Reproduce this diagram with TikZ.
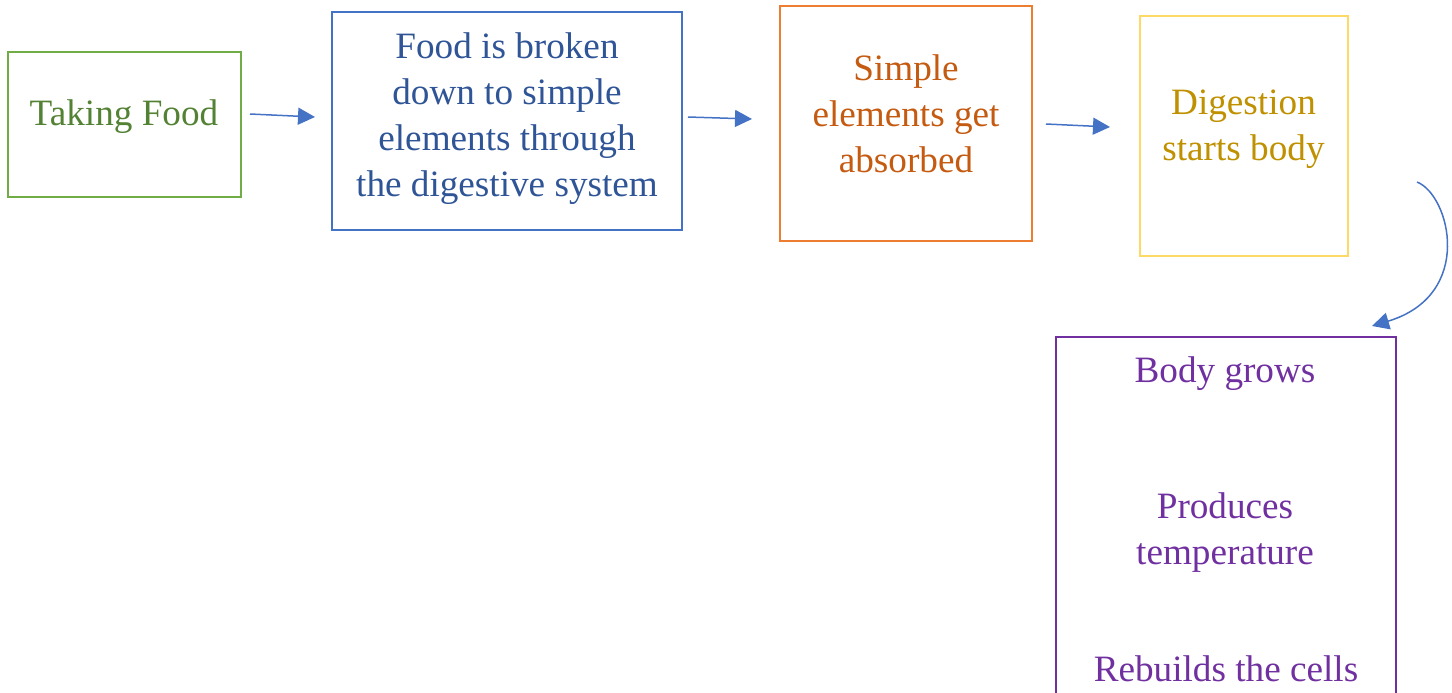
\documentclass[tikz,border=0pt]{standalone}
\usepackage{fontspec}
\setmainfont{Liberation Serif}
\usetikzlibrary{arrows.meta}
\definecolor{gborder}{HTML}{70AD47}\definecolor{gtext}{HTML}{548235}
\definecolor{bborder}{HTML}{4472C4}\definecolor{btext}{HTML}{2F5597}
\definecolor{oborder}{HTML}{ED7D31}\definecolor{otext}{HTML}{C55A11}
\definecolor{yborder}{HTML}{FFD966}\definecolor{ytext}{HTML}{BF9000}
\definecolor{pborder}{HTML}{7030A0}\definecolor{ptext}{HTML}{7030A0}
\definecolor{arrowc}{HTML}{4472C4}
\tikzset{
  box/.style={draw=#1, line width=1.25pt, inner sep=0pt, outer sep=0pt, fill=none},
  lbl/.style={text=#1, font=\fontsize{18.6pt}{23pt}\selectfont, align=center, inner sep=0pt},
  flow/.style={draw=arrowc, line width=0.75pt, -{Triangle[length=8.5pt,width=8.5pt]}}
}
\begin{document}
\begin{tikzpicture}[x=0.5pt,y=-0.5pt]
\useasboundingbox (0,0) rectangle (1452,692);
% boxes
\node[box=gborder, minimum width=116.5pt, minimum height=72.5pt] (green) at (124.5,124.5) {};
\node[box=bborder, minimum width=175pt, minimum height=109pt] (blue) at (507,121) {};
\node[box=oborder, minimum width=126pt, minimum height=117.5pt] (orange) at (906,123.5) {};
\node[box=yborder, minimum width=104pt, minimum height=120pt] (yellow) at (1244,136) {};
\node[box=pborder, minimum width=170pt, minimum height=191.5pt] (purple) at (1226,528.5) {};
% texts
\node[lbl=gtext] (tgreen) at (124,117) {Taking Food};
\node[lbl=btext] (tblue) at (507,119) {Food is broken\\down to simple\\elements through\\the digestive system};
\node[lbl=otext] (torange) at (906,114) {Simple\\elements get\\absorbed};
\node[lbl=ytext] (tyellow) at (1243.5,129) {Digestion\\starts body};
\node[lbl=ptext] (tp1) at (1225,374) {Body grows};
\node[lbl=ptext] (tp2) at (1225,533) {Produces\\temperature};
\node[lbl=ptext] (tp3) at (1226,669) {Rebuilds the cells};
% connector endpoints
\coordinate (a1s) at (250,114); \coordinate (a1e) at (315,117);
\coordinate (a2s) at (688,117); \coordinate (a2e) at (752,119);
\coordinate (a3s) at (1046,124); \coordinate (a3e) at (1110,127);
\coordinate (a4s) at (1417,182); \coordinate (a4e) at (1372,326);
\draw[flow] (a1s) -- (a1e);
\draw[flow] (a2s) -- (a2e);
\draw[flow] (a3s) -- (a3e);
\draw[flow] (a4s) .. controls (1450,195) and (1475,295) .. (a4e);
\end{tikzpicture}
\end{document}
